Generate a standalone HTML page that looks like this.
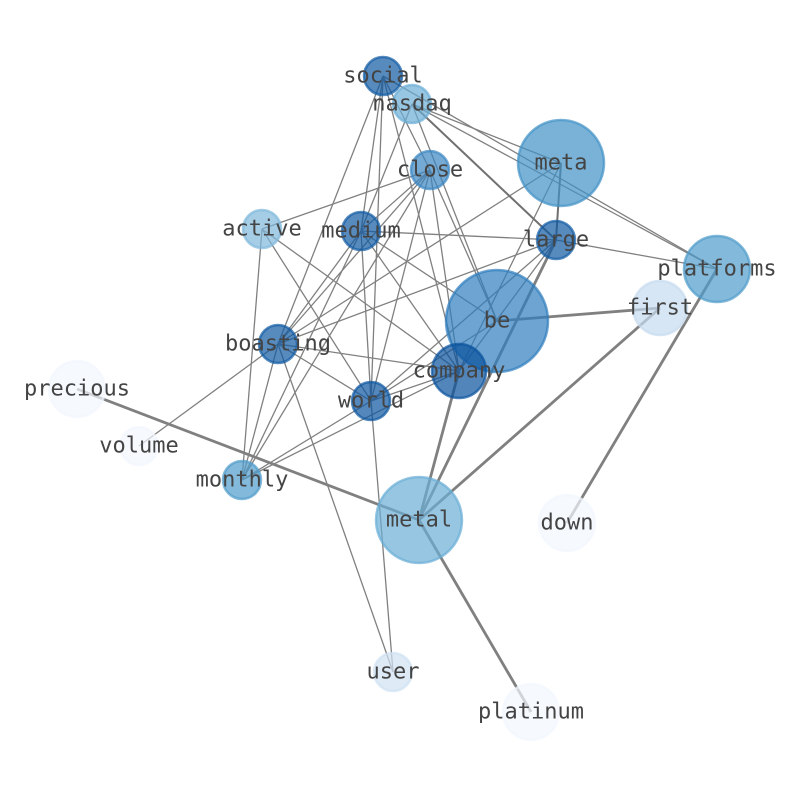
<!DOCTYPE html>
<html><head><meta charset="utf-8"><style>body{margin:0;background:#fff}svg{display:block}</style></head><body>
<svg width="794" height="790" viewBox="0 0 794 790" xmlns="http://www.w3.org/2000/svg">
<g stroke="#808080" stroke-width="1.3" fill="none">
<line x1="383" y1="76" x2="278" y2="344"/>
<line x1="383" y1="76" x2="361" y2="231"/>
<line x1="383" y1="76" x2="371" y2="401"/>
<line x1="383" y1="76" x2="459" y2="371"/>
<line x1="383" y1="76" x2="717" y2="269"/>
<line x1="383" y1="76" x2="430" y2="170"/>
<line x1="412" y1="104" x2="717" y2="269"/>
<line x1="412" y1="104" x2="561" y2="163"/>
<line x1="412" y1="104" x2="361" y2="231"/>
<line x1="412" y1="104" x2="497" y2="321"/>
<line x1="430" y1="170" x2="262" y2="229"/>
<line x1="430" y1="170" x2="361" y2="231"/>
<line x1="430" y1="170" x2="278" y2="344"/>
<line x1="430" y1="170" x2="242" y2="480"/>
<line x1="430" y1="170" x2="371" y2="401"/>
<line x1="430" y1="170" x2="459" y2="371"/>
<line x1="430" y1="170" x2="497" y2="321"/>
<line x1="561" y1="163" x2="278" y2="344"/>
<line x1="561" y1="163" x2="459" y2="371"/>
<line x1="361" y1="231" x2="556" y2="240"/>
<line x1="361" y1="231" x2="371" y2="401"/>
<line x1="361" y1="231" x2="459" y2="371"/>
<line x1="361" y1="231" x2="278" y2="344"/>
<line x1="361" y1="231" x2="242" y2="480"/>
<line x1="361" y1="231" x2="497" y2="321"/>
<line x1="262" y1="229" x2="242" y2="480"/>
<line x1="262" y1="229" x2="371" y2="401"/>
<line x1="262" y1="229" x2="459" y2="371"/>
<line x1="556" y1="240" x2="278" y2="344"/>
<line x1="556" y1="240" x2="371" y2="401"/>
<line x1="556" y1="240" x2="459" y2="371"/>
<line x1="556" y1="240" x2="717" y2="269"/>
<line x1="278" y1="344" x2="139" y2="446"/>
<line x1="278" y1="344" x2="242" y2="480"/>
<line x1="278" y1="344" x2="393" y2="672"/>
<line x1="278" y1="344" x2="371" y2="401"/>
<line x1="278" y1="344" x2="459" y2="371"/>
<line x1="371" y1="401" x2="242" y2="480"/>
<line x1="371" y1="401" x2="393" y2="672"/>
<line x1="371" y1="401" x2="459" y2="371"/>
<line x1="371" y1="401" x2="497" y2="321"/>
<line x1="459" y1="371" x2="242" y2="480"/>
</g>
<g stroke="#707070" stroke-width="2">
<line x1="412" y1="104" x2="556" y2="240"/>
<line x1="561" y1="163" x2="556" y2="240"/>
</g>
<g stroke="#808080" stroke-width="2.8">
<line x1="556" y1="240" x2="419" y2="520"/>
<line x1="497" y1="321" x2="660" y2="308"/>
<line x1="660" y1="308" x2="419" y2="520"/>
<line x1="717" y1="269" x2="567" y2="523"/>
<line x1="77" y1="389" x2="419" y2="520"/>
<line x1="419" y1="520" x2="531" y2="712"/>
<line x1="459" y1="371" x2="419" y2="520"/>
</g>
<g fill-opacity="0.7" stroke-width="2.5" stroke-opacity="0.7">
<circle cx="561" cy="163" r="43" fill="#4292c6" stroke="#4292c6"/>
<circle cx="717" cy="269" r="33" fill="#4f9bcb" stroke="#4f9bcb"/>
<circle cx="660" cy="308" r="27" fill="#c6dbef" stroke="#c6dbef"/>
<circle cx="497" cy="321" r="51" fill="#2f7dbd" stroke="#2f7dbd"/>
<circle cx="459" cy="371" r="27" fill="#08519c" stroke="#08519c"/>
<circle cx="383" cy="76" r="19" fill="#0f5aa3" stroke="#0f5aa3"/>
<circle cx="412" cy="104" r="19" fill="#6baed6" stroke="#6baed6"/>
<circle cx="430" cy="170" r="19" fill="#3a86c2" stroke="#3a86c2"/>
<circle cx="262" cy="229" r="19" fill="#7fb8dc" stroke="#7fb8dc"/>
<circle cx="361" cy="231" r="19" fill="#0f5aa3" stroke="#0f5aa3"/>
<circle cx="556" cy="240" r="19" fill="#0f5aa3" stroke="#0f5aa3"/>
<circle cx="278" cy="344" r="19" fill="#0f5aa3" stroke="#0f5aa3"/>
<circle cx="371" cy="401" r="19" fill="#0b55a0" stroke="#0b55a0"/>
<circle cx="242" cy="480" r="19" fill="#4f9bcb" stroke="#4f9bcb"/>
<circle cx="419" cy="520" r="43" fill="#6aaed6" stroke="#6aaed6"/>
<circle cx="77" cy="389" r="28" fill="#f2f7fd" stroke="#f2f7fd"/>
<circle cx="139" cy="446" r="19" fill="#f2f7fd" stroke="#f2f7fd"/>
<circle cx="567" cy="523" r="28" fill="#f2f7fd" stroke="#f2f7fd"/>
<circle cx="393" cy="672" r="19" fill="#d0e1f2" stroke="#d0e1f2"/>
<circle cx="531" cy="712" r="28" fill="#f2f7fd" stroke="#f2f7fd"/>
</g>
<g font-family="DejaVu Sans Mono, Liberation Mono, monospace" font-size="22" fill="#444" text-anchor="middle" dominant-baseline="central">
<text x="383" y="76">social</text>
<text x="412" y="104">nasdaq</text>
<text x="430" y="170">close</text>
<text x="561" y="163">meta</text>
<text x="262" y="229">active</text>
<text x="361" y="231">medium</text>
<text x="556" y="240">large</text>
<text x="717" y="269">platforms</text>
<text x="660" y="308">first</text>
<text x="497" y="321">be</text>
<text x="278" y="344">boasting</text>
<text x="459" y="371">company</text>
<text x="77" y="389">precious</text>
<text x="371" y="401">world</text>
<text x="139" y="446">volume</text>
<text x="242" y="480">monthly</text>
<text x="419" y="520">metal</text>
<text x="567" y="523">down</text>
<text x="393" y="672">user</text>
<text x="531" y="712">platinum</text>
</g>
</svg>
</body></html>
